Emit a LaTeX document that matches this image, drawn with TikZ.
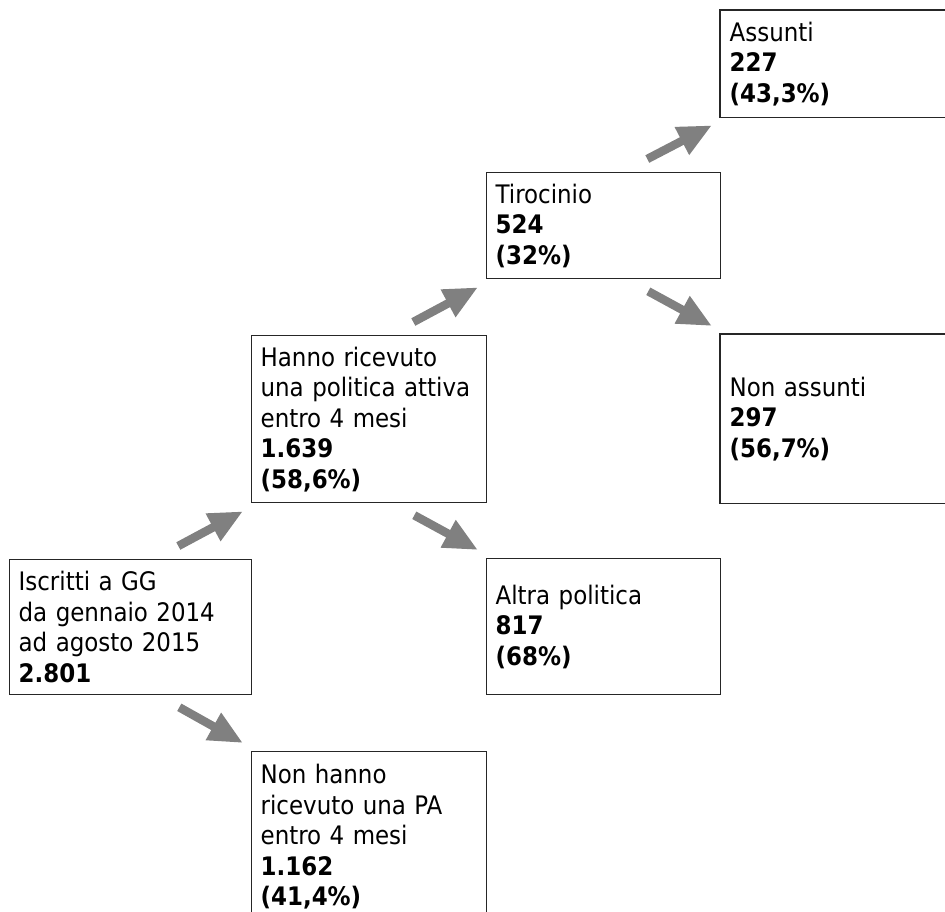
\documentclass[tikz,border=0pt]{standalone}
\usepackage{fontspec}
\setmainfont{DejaVu Sans Condensed}
\usetikzlibrary{arrows.meta,calc}
\definecolor{arrowgray}{RGB}{128,128,128}
\tikzset{
  boxline/.style={draw=black!85, line width=1.3pt},
  box/.style={boxline, anchor=north west, align=left,
    inner xsep=9pt, inner ysep=0pt, font=\fontsize{25.5}{30.5}\selectfont},
  openbox/.style={box, draw=none},
  flow/.style={draw=arrowgray, line width=8.5pt, -{Triangle[length=34pt,width=29pt]}}
}

\begin{document}
\begin{tikzpicture}[x=1pt,y=-1pt]
\useasboundingbox (0,0) rectangle (945,911);

\node[box, text width=224pt, minimum height=135pt] (iscritti) at (9,559)
  {Iscritti a GG\\da gennaio 2014\\ad agosto 2015\\\textbf{2.801}};
\node[box, text width=217pt, minimum height=167pt] (hanno) at (251,335)
  {Hanno ricevuto\\una politica attiva\\entro 4 mesi\\\textbf{1.639}\\\textbf{(58,6\%)}};
\node[box, text width=217pt, minimum height=170pt] (nonhanno) at (251,751)
  {Non hanno\\ricevuto una PA\\entro 4 mesi\\\textbf{1.162}\\\textbf{(41,4\%)}};
\node[box, text width=216pt, minimum height=106pt] (tirocinio) at (486,172)
  {Tirocinio\\\textbf{524}\\\textbf{(32\%)}};
\node[box, text width=216pt, minimum height=136pt] (altra) at (486,558)
  {Altra politica\\\textbf{817}\\\textbf{(68\%)}};
\node[openbox, text width=260pt, minimum height=106pt] (assunti) at (720,10)
  {Assunti\\\textbf{227}\\\textbf{(43,3\%)}};
\node[openbox, text width=260pt, minimum height=168pt] (nonassunti) at (720,334)
  {Non assunti\\\textbf{297}\\\textbf{(56,7\%)}};

% i riquadri a destra escono dal foglio
\foreach \n in {assunti, nonassunti}
  \draw[boxline] (\n.north east) -- (\n.north west) -- (\n.south west) -- (\n.south east);

% frecce verso l'alto e verso il basso
\foreach \a/\b in {iscritti/hanno, hanno/tirocinio, tirocinio/assunti}
  \draw[flow] ($(\a.north east)+(-74,-13)$) -- ($(\b.south west)+(-8,8)$);
\foreach \a/\b in {iscritti/nonhanno, hanno/altra, tirocinio/nonassunti}
  \draw[flow] ($(\a.south east)+(-73,12)$) -- ($(\b.north west)+(-8,-8)$);

\end{tikzpicture}
\end{document}
